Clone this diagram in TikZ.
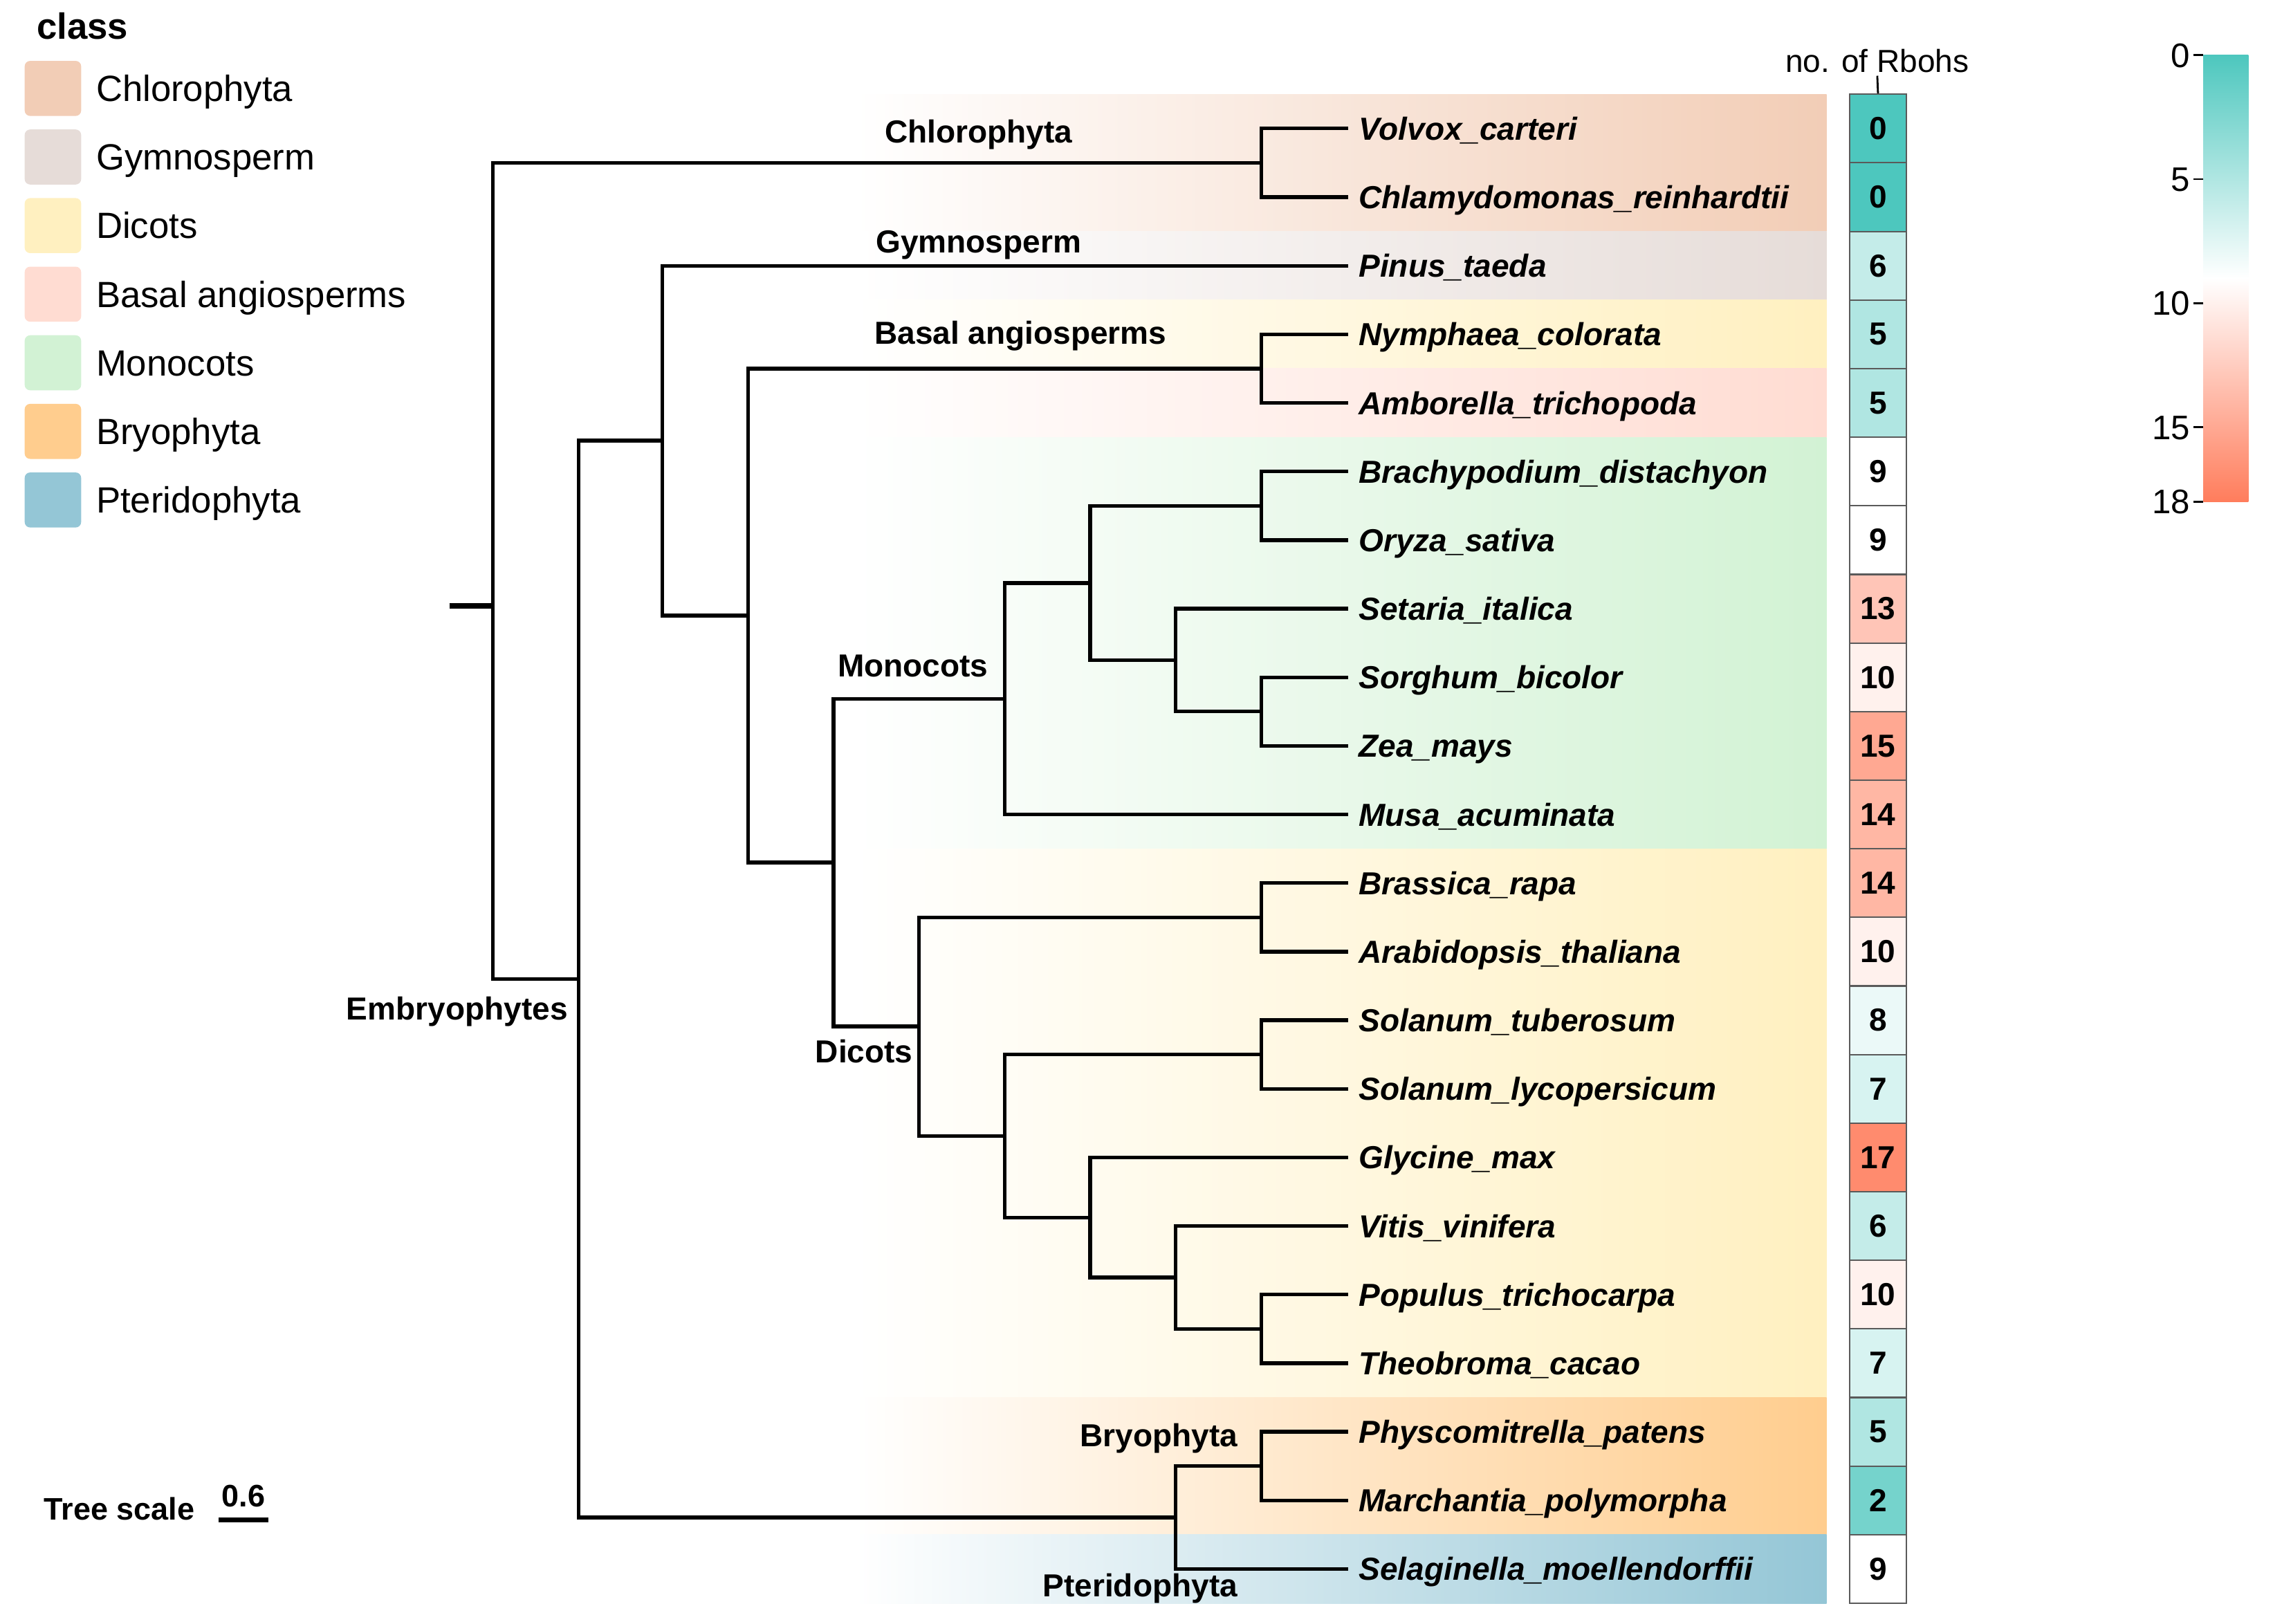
\documentclass[tikz,border=0pt]{standalone}
\usepackage{fontspec}
\setmainfont{Liberation Sans}
\definecolor{teal0}{RGB}{77,199,190}
\definecolor{coral18}{RGB}{255,125,92}
\definecolor{chlcol}{RGB}{242,205,182}
\definecolor{gymcol}{RGB}{230,220,216}
\definecolor{diccol}{RGB}{255,240,192}
\definecolor{bascol}{RGB}{255,220,210}
\definecolor{moncol}{RGB}{210,242,212}
\definecolor{brycol}{RGB}{255,205,142}
\definecolor{ptecol}{RGB}{148,198,214}
\definecolor{boxline}{RGB}{90,90,90}
\begin{document}
\begin{tikzpicture}[x=0.20957mm,y=-9.9169mm,
leaf/.style={anchor=west,inner xsep=4.2pt,inner ysep=0pt,text height=9.4pt,text depth=0pt,font=\fontsize{13.1}{15}\selectfont\bfseries\itshape},
clade/.style={inner sep=0pt,text height=9.4pt,text depth=0pt,font=\fontsize{13.1}{15}\selectfont\bfseries},
cell/.style={draw=boxline,line width=0.6pt,minimum width=8.17mm,minimum height=9.917mm,inner sep=0pt,font=\fontsize{13.1}{15}\selectfont\bfseries},
swatch/.style={rounded corners=0.8mm,minimum width=8.17mm,minimum height=7.96mm,inner sep=0pt},
keytext/.style={anchor=west,inner sep=0pt,text height=10.7pt,text depth=0pt,font=\fontsize{15}{18}\selectfont},
range/.style={left color=white,middle color=#1!30!white,right color=#1},
branch/.style={line width=1.5pt}
]
\useasboundingbox (0,-1.874) rectangle (1568,21.80);

% coloured ranges behind the tree
\shade[range=chlcol] (590,-0.5) rectangle (1260,1.5);
\shade[range=gymcol] (590,1.5) rectangle (1260,2.5);
\shade[range=diccol] (590,2.5) rectangle (1260,3.5);
\shade[range=bascol] (590,3.5) rectangle (1260,4.5);
\shade[range=moncol] (590,4.5) rectangle (1260,10.5);
\shade[range=diccol] (590,10.5) rectangle (1260,18.5);
\shade[range=brycol] (590,18.5) rectangle (1260,20.5);
\shade[range=ptecol] (590,20.5) rectangle (1260,21.5);

% legend
\node[anchor=west,inner sep=0pt,text height=10.7pt,text depth=0pt,font=\fontsize{15}{18}\selectfont\bfseries](class) at (25,-1.494){class};
\node[swatch,fill=chlcol](sw-chl) at (36.5,-0.585){};
\node[keytext](key-chl) at (66,-0.585){Chlorophyta};
\node[swatch,fill=gymcol](sw-gym) at (36.5,0.415){};
\node[keytext](key-gym) at (66,0.415){Gymnosperm};
\node[swatch,fill=diccol](sw-dic) at (36.5,1.415){};
\node[keytext](key-dic) at (66,1.415){Dicots};
\node[swatch,fill=bascol](sw-bas) at (36.5,2.415){};
\node[keytext](key-bas) at (66,2.415){Basal angiosperms};
\node[swatch,fill=moncol](sw-mon) at (36.5,3.415){};
\node[keytext](key-mon) at (66,3.415){Monocots};
\node[swatch,fill=brycol](sw-bry) at (36.5,4.415){};
\node[keytext](key-bry) at (66,4.415){Bryophyta};
\node[swatch,fill=ptecol](sw-pte) at (36.5,5.415){};
\node[keytext](key-pte) at (66,5.415){Pteridophyta};

% leaves
\node[leaf](volvox) at (930,0){Volvox\_carteri};
\node[leaf](chlamy) at (930,1){Chlamydomonas\_reinhardtii};
\node[leaf](pinus) at (930,2){Pinus\_taeda};
\node[leaf](nymph) at (930,3){Nymphaea\_colorata};
\node[leaf](ambor) at (930,4){Amborella\_trichopoda};
\node[leaf](brachy) at (930,5){Brachypodium\_distachyon};
\node[leaf](oryza) at (930,6){Oryza\_sativa};
\node[leaf](setaria) at (930,7){Setaria\_italica};
\node[leaf](sorghum) at (930,8){Sorghum\_bicolor};
\node[leaf](zea) at (930,9){Zea\_mays};
\node[leaf](musa) at (930,10){Musa\_acuminata};
\node[leaf](brassica) at (930,11){Brassica\_rapa};
\node[leaf](arabid) at (930,12){Arabidopsis\_thaliana};
\node[leaf](soltub) at (930,13){Solanum\_tuberosum};
\node[leaf](sollyc) at (930,14){Solanum\_lycopersicum};
\node[leaf](glycine) at (930,15){Glycine\_max};
\node[leaf](vitis) at (930,16){Vitis\_vinifera};
\node[leaf](populus) at (930,17){Populus\_trichocarpa};
\node[leaf](theob) at (930,18){Theobroma\_cacao};
\node[leaf](physco) at (930,19){Physcomitrella\_patens};
\node[leaf](march) at (930,20){Marchantia\_polymorpha};
\node[leaf](selag) at (930,21){Selaginella\_moellendorffii};

% inner nodes
\coordinate(stub) at (310,6.96);
\coordinate(root) at (340,6.96);
\coordinate(chloro) at (870,0.5);
\coordinate(embryo) at (399,12.40);
\coordinate(seed) at (457,4.55);
\coordinate(angio) at (516,7.10);
\coordinate(basal) at (870,3.5);
\coordinate(mesang) at (575,10.70);
\coordinate(mono) at (693,8.3125);
\coordinate(mono-a) at (752,6.625);
\coordinate(mono-b) at (870,5.5);
\coordinate(mono-c) at (811,7.75);
\coordinate(mono-d) at (870,8.5);
\coordinate(dicot) at (634,13.09);
\coordinate(dicot-a) at (870,11.5);
\coordinate(dicot-b) at (693,14.6875);
\coordinate(dicot-c) at (870,13.5);
\coordinate(dicot-d) at (752,15.875);
\coordinate(dicot-e) at (811,16.75);
\coordinate(dicot-f) at (870,17.5);
\coordinate(early) at (811,20.25);
\coordinate(bryo) at (870,19.5);

\begin{scope}[branch]
\draw[line width=2.2pt] (stub)--(root);
\draw (root)|-(chloro);
\draw (root)|-(embryo);
\draw (chloro)|-(volvox.west);
\draw (chloro)|-(chlamy.west);
\draw (embryo)|-(seed);
\draw (embryo)|-(early);
\draw (seed)|-(pinus.west);
\draw (seed)|-(angio);
\draw (angio)|-(basal);
\draw (angio)|-(mesang);
\draw (basal)|-(nymph.west);
\draw (basal)|-(ambor.west);
\draw (mesang)|-(mono);
\draw (mesang)|-(dicot);
\draw (mono)|-(mono-a);
\draw (mono)|-(musa.west);
\draw (mono-a)|-(mono-b);
\draw (mono-a)|-(mono-c);
\draw (mono-b)|-(brachy.west);
\draw (mono-b)|-(oryza.west);
\draw (mono-c)|-(setaria.west);
\draw (mono-c)|-(mono-d);
\draw (mono-d)|-(sorghum.west);
\draw (mono-d)|-(zea.west);
\draw (dicot)|-(dicot-a);
\draw (dicot)|-(dicot-b);
\draw (dicot-a)|-(brassica.west);
\draw (dicot-a)|-(arabid.west);
\draw (dicot-b)|-(dicot-c);
\draw (dicot-b)|-(dicot-d);
\draw (dicot-c)|-(soltub.west);
\draw (dicot-c)|-(sollyc.west);
\draw (dicot-d)|-(glycine.west);
\draw (dicot-d)|-(dicot-e);
\draw (dicot-e)|-(vitis.west);
\draw (dicot-e)|-(dicot-f);
\draw (dicot-f)|-(populus.west);
\draw (dicot-f)|-(theob.west);
\draw (early)|-(bryo);
\draw (early)|-(selag.west);
\draw (bryo)|-(physco.west);
\draw (bryo)|-(march.west);
\end{scope}

% clade names
\node[clade](chl-lab) at (675,0.04){Chlorophyta};
\node[clade](gym-lab) at (675,1.64){Gymnosperm};
\node[clade](bas-lab) at (704,2.98){Basal angiosperms};
\node[clade,anchor=east](mon-lab) at (682,7.83){Monocots};
\node[clade,anchor=east](dic-lab) at (630,13.45){Dicots};
\node[clade,anchor=east](emb-lab) at (392,12.83){Embryophytes};
\node[clade,anchor=east](bry-lab) at (854,19.05){Bryophyta};
\node[clade,anchor=east](pte-lab) at (854,21.24){Pteridophyta};

% number of Rbohs
\foreach \v [count=\i from 0] in {0,0,6,5,5,9,9,13,10,15,14,14,10,8,7,17,6,10,7,5,2,9}{
  \pgfmathsetmacro{\pct}{abs(\v-9)*100/9}
  \ifnum\v<9 \colorlet{cellfill}{teal0!\pct!white}\else\colorlet{cellfill}{coral18!\pct!white}\fi
  \node[cell,fill=cellfill](n\i) at (1295.5,\i){\v};
}
\node[inner sep=0pt,text height=9.4pt,text depth=0pt,font=\fontsize{13.1}{15}\selectfont](rbohs) at (1295,-0.986){no. of Rbohs};
\draw[line width=0.8pt] ([yshift=-1.2pt]rbohs.south)--(n0.north);

% colour scale
\shade[top color=teal0,bottom color=white] (1520,-1.071) rectangle (1551,2.183);
\shade[top color=white,bottom color=coral18] (1520,2.183) rectangle (1551,5.437);
\foreach \v in {0,5,10,15,18}
  \draw[line width=0.8pt] (1520,{-1.071+0.3616*\v})--(1513,{-1.071+0.3616*\v}) node[anchor=east,inner xsep=1pt,inner ysep=0pt,text height=10pt,text depth=0pt,font=\fontsize{14}{16}\selectfont]{\v};

% tree scale
\node[anchor=west,inner sep=0pt,text height=9.2pt,text depth=0pt,font=\fontsize{12.8}{15}\selectfont\bfseries](scale) at (30,20.12){Tree scale};
\node[inner sep=0pt,text height=9.2pt,text depth=0pt,font=\fontsize{12.8}{15}\selectfont\bfseries](scale-val) at (168,19.93){0.6};
\draw[line width=2pt] (151,20.28)--(185,20.28);
\end{tikzpicture}
\end{document}
